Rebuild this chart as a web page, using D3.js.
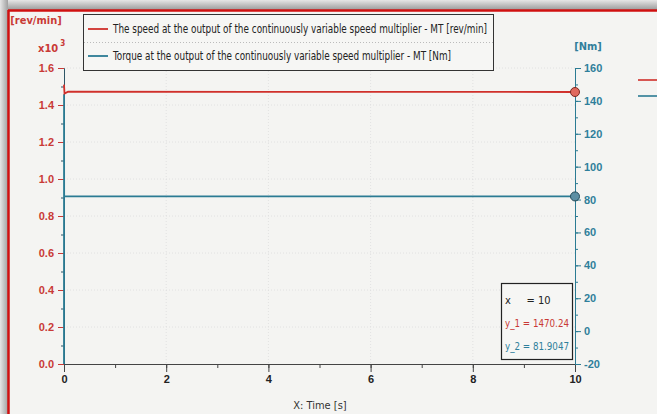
<!DOCTYPE html>
<html><head><meta charset="utf-8">
<script src="https://cdn.jsdelivr.net/npm/d3@7"></script>
<style>
html,body{margin:0;padding:0;background:#bdbdbd;}
svg{display:block;font-family:'Liberation Sans Narrow','DejaVu Sans Condensed','Arial Narrow',sans-serif;}
</style></head>
<body>
<svg id="c" width="657" height="414"></svg>
<script>
// ---- data ----
const timeTicks = [0, 2, 4, 6, 8, 10];
const speedTicks = [0.0, 0.2, 0.4, 0.6, 0.8, 1.0, 1.2, 1.4, 1.6];       // x10^3 rev/min
const torqueTicks = [-20, 0, 20, 40, 60, 80, 100, 120, 140, 160];       // Nm
const speedTime = [0, 0.01, 0.08, 10];
const speedValue = [1510, 1462, 1472, 1470.24];                          // rev/min
const torqueTime = [0, 0.001, 0.003, 10];
const torqueValue = [-20, 144, 81.9047, 81.9047];                        // Nm
const legendLabels = [
  "The speed at the output of the continuously variable speed multiplier - MT [rev/min]",
  "Torque at the output of the continuously variable speed multiplier - MT [Nm]"
];
const cursor = {x: 10, y1: 1470.24, y2: 81.9047};

const RED = "#d0302b", TEAL = "#2b7b93", RED_T = "#c93a36", TEAL_T = "#2f7f9b";
const svg = d3.select("#c");

// frame / shadow
const defs = svg.append("defs");
const gTop = defs.append("linearGradient").attr("id","gt").attr("x1",0).attr("y1",0).attr("x2",0).attr("y2",1);
gTop.append("stop").attr("offset","0").attr("stop-color","#e6e6e6");
gTop.append("stop").attr("offset","1").attr("stop-color","#9a9a9a");
const gLeft = defs.append("linearGradient").attr("id","gl").attr("x1",0).attr("y1",0).attr("x2",1).attr("y2",0);
gLeft.append("stop").attr("offset","0").attr("stop-color","#e6e6e6");
gLeft.append("stop").attr("offset","1").attr("stop-color","#a0a0a0");
svg.append("rect").attr("x",0).attr("y",0).attr("width",657).attr("height",10).attr("fill","url(#gt)");
svg.append("rect").attr("x",0).attr("y",0).attr("width",8).attr("height",414).attr("fill","url(#gl)");
svg.append("rect").attr("x",8).attr("y",10).attr("width",649).attr("height",404).attr("fill","#f4f4f2");
svg.append("line").attr("x1",8.5).attr("x2",8.5).attr("y1",10).attr("y2",414).attr("stroke","#d01010").attr("stroke-width",2.5);
svg.append("line").attr("x1",8).attr("x2",657).attr("y1",10.5).attr("y2",10.5).attr("stroke","#d01010").attr("stroke-width",2.5);

// scales
const x = d3.scaleLinear().domain([0, 10]).range([64, 575]);
const yL = d3.scaleLinear().domain([0, 1.6]).range([364, 68]);
const yR = d3.scaleLinear().domain([-20, 160]).range([364, 68]);

// grid
const grid = svg.append("g").attr("stroke","#dddddd").attr("stroke-width",0.8).attr("stroke-dasharray","1,2");
grid.selectAll(".gx").data(timeTicks.slice(1,-1)).join("line")
  .attr("x1",d=>x(d)).attr("x2",d=>x(d)).attr("y1",68).attr("y2",364);
grid.selectAll(".gy").data(speedTicks.slice(1)).join("line")
  .attr("x1",64).attr("x2",575).attr("y1",d=>yL(d)).attr("y2",d=>yL(d));

// axes
function styleAxis(g, color, textColor){
  g.selectAll("path").attr("stroke", color);
  g.selectAll("line").attr("stroke", color);
  g.selectAll("text").attr("fill", textColor).attr("font-size", 11).attr("font-weight","bold");
}
const minorX = d3.range(0, 10.01, 1);
const xMinor = svg.append("g").attr("transform","translate(0,364)")
  .call(d3.axisBottom(x).tickValues(minorX).tickSize(4).tickFormat("").tickSizeOuter(0));
styleAxis(xMinor, "#444", "#222");
const xAxis = svg.append("g").attr("transform","translate(0,364)")
  .call(d3.axisBottom(x).tickValues(timeTicks).tickSize(8).tickPadding(3).tickFormat(d=>String(d)).tickSizeOuter(0));
styleAxis(xAxis, "#444", "#222");

const minorL = d3.range(0, 1.601, 0.1);
const yLMinor = svg.append("g").attr("transform","translate(64,0)")
  .call(d3.axisLeft(yL).tickValues(minorL).tickSize(3).tickFormat("").tickSizeOuter(0));
styleAxis(yLMinor, "#2e5566", RED_T);
const yLAxis = svg.append("g").attr("transform","translate(64,0)")
  .call(d3.axisLeft(yL).tickValues(speedTicks).tickSize(6).tickPadding(4).tickFormat(d=>d.toFixed(1)).tickSizeOuter(0));
styleAxis(yLAxis, "#2e5566", RED_T);
yLAxis.selectAll(".tick line").attr("stroke", RED_T);

const minorR = d3.range(-20, 160.1, 10);
const yRMinor = svg.append("g").attr("transform","translate(575,0)")
  .call(d3.axisRight(yR).tickValues(minorR).tickSize(3).tickFormat("").tickSizeOuter(0));
styleAxis(yRMinor, TEAL, TEAL_T);
const yRAxis = svg.append("g").attr("transform","translate(575,0)")
  .call(d3.axisRight(yR).tickValues(torqueTicks).tickSize(6).tickPadding(3).tickFormat(d=>String(d)).tickSizeOuter(0));
styleAxis(yRAxis, TEAL, TEAL_T);

// series
const lineS = d3.line().x(d=>x(d[0])).y(d=>yL(d[1]/1000));
const lineT = d3.line().x(d=>x(d[0])).y(d=>yR(d[1]));
const sData = speedTime.map((t,i)=>[t, speedValue[i]]);
const tData = torqueTime.map((t,i)=>[t, torqueValue[i]]);
svg.append("path").datum(tData).attr("d", lineT).attr("fill","none").attr("stroke",TEAL).attr("stroke-width",1.8);
svg.append("path").datum(sData).attr("d", lineS).attr("fill","none").attr("stroke",RED).attr("stroke-width",1.8);

// cursor markers
svg.append("circle").attr("cx", x(cursor.x)).attr("cy", yL(cursor.y1/1000)).attr("r",4.5)
  .attr("fill","#e06a5e").attr("stroke","#7a2a22").attr("stroke-width",1);
svg.append("circle").attr("cx", x(cursor.x)).attr("cy", yR(cursor.y2)).attr("r",4.5)
  .attr("fill","#5d8fa3").attr("stroke","#234a58").attr("stroke-width",1);

// axis unit labels
svg.append("text").attr("x",36).attr("y",24).attr("text-anchor","middle").attr("fill",RED_T)
  .attr("font-size",11).attr("font-weight","bold").text("[rev/min]");
const xt = svg.append("text").attr("x",38).attr("y",52).attr("fill",RED_T).attr("font-size",11).attr("font-weight","bold");
xt.append("tspan").text("x10");
xt.append("tspan").attr("dy",-6).attr("dx",2).attr("font-size",8).text("3");
svg.append("text").attr("x",588).attr("y",50).attr("text-anchor","middle").attr("fill",TEAL_T)
  .attr("font-size",11).attr("font-weight","bold").text("[Nm]");
svg.append("text").attr("x",320).attr("y",409).attr("text-anchor","middle").attr("fill","#333")
  .attr("font-size",11).text("X: Time [s]");

// legend
const lg = svg.append("g");
lg.append("rect").attr("x",83.5).attr("y",14.5).attr("width",410).attr("height",56)
  .attr("fill","#f6f6f4").attr("stroke","#333").attr("stroke-width",1);
lg.append("line").attr("x1",84).attr("x2",493).attr("y1",42.5).attr("y2",42.5)
  .attr("stroke","#bbb").attr("stroke-dasharray","1,2");
const lcol = [RED, TEAL], lys = [29, 56], lw = [374, 338];
legendLabels.forEach((t,i)=>{
  lg.append("line").attr("x1",88).attr("x2",108).attr("y1",lys[i]).attr("y2",lys[i]).attr("stroke",lcol[i]).attr("stroke-width",1.8);
  lg.append("text").attr("x",113).attr("y",lys[i]+4).attr("fill","#222").attr("font-size",11.5)
    .attr("textLength", lw[i]).attr("lengthAdjust","spacingAndGlyphs").text(t);
});
// outer legend stubs (cropped)
svg.append("line").attr("x1",638).attr("x2",657).attr("y1",80).attr("y2",80).attr("stroke",RED).attr("stroke-width",1.6);
svg.append("line").attr("x1",638).attr("x2",657).attr("y1",96).attr("y2",96).attr("stroke",TEAL).attr("stroke-width",1.6);

// cursor info box
const cb = svg.append("g");
cb.append("rect").attr("x",501.5).attr("y",283.5).attr("width",71).attr("height",76)
  .attr("fill","#f6f6f4").attr("stroke","#222").attr("stroke-width",1.2);
cb.append("text").attr("x",505).attr("y",304).attr("fill","#222").attr("font-size",11).attr("xml:space","preserve").text("x     = " + cursor.x);
cb.append("text").attr("x",505).attr("y",327).attr("fill",RED_T).attr("font-size",11)
  .attr("textLength",64).attr("lengthAdjust","spacingAndGlyphs").text("y_1 = " + cursor.y1);
cb.append("text").attr("x",505).attr("y",350).attr("fill",TEAL_T).attr("font-size",11)
  .attr("textLength",64).attr("lengthAdjust","spacingAndGlyphs").text("y_2 = " + cursor.y2);
</script>
</body></html>
